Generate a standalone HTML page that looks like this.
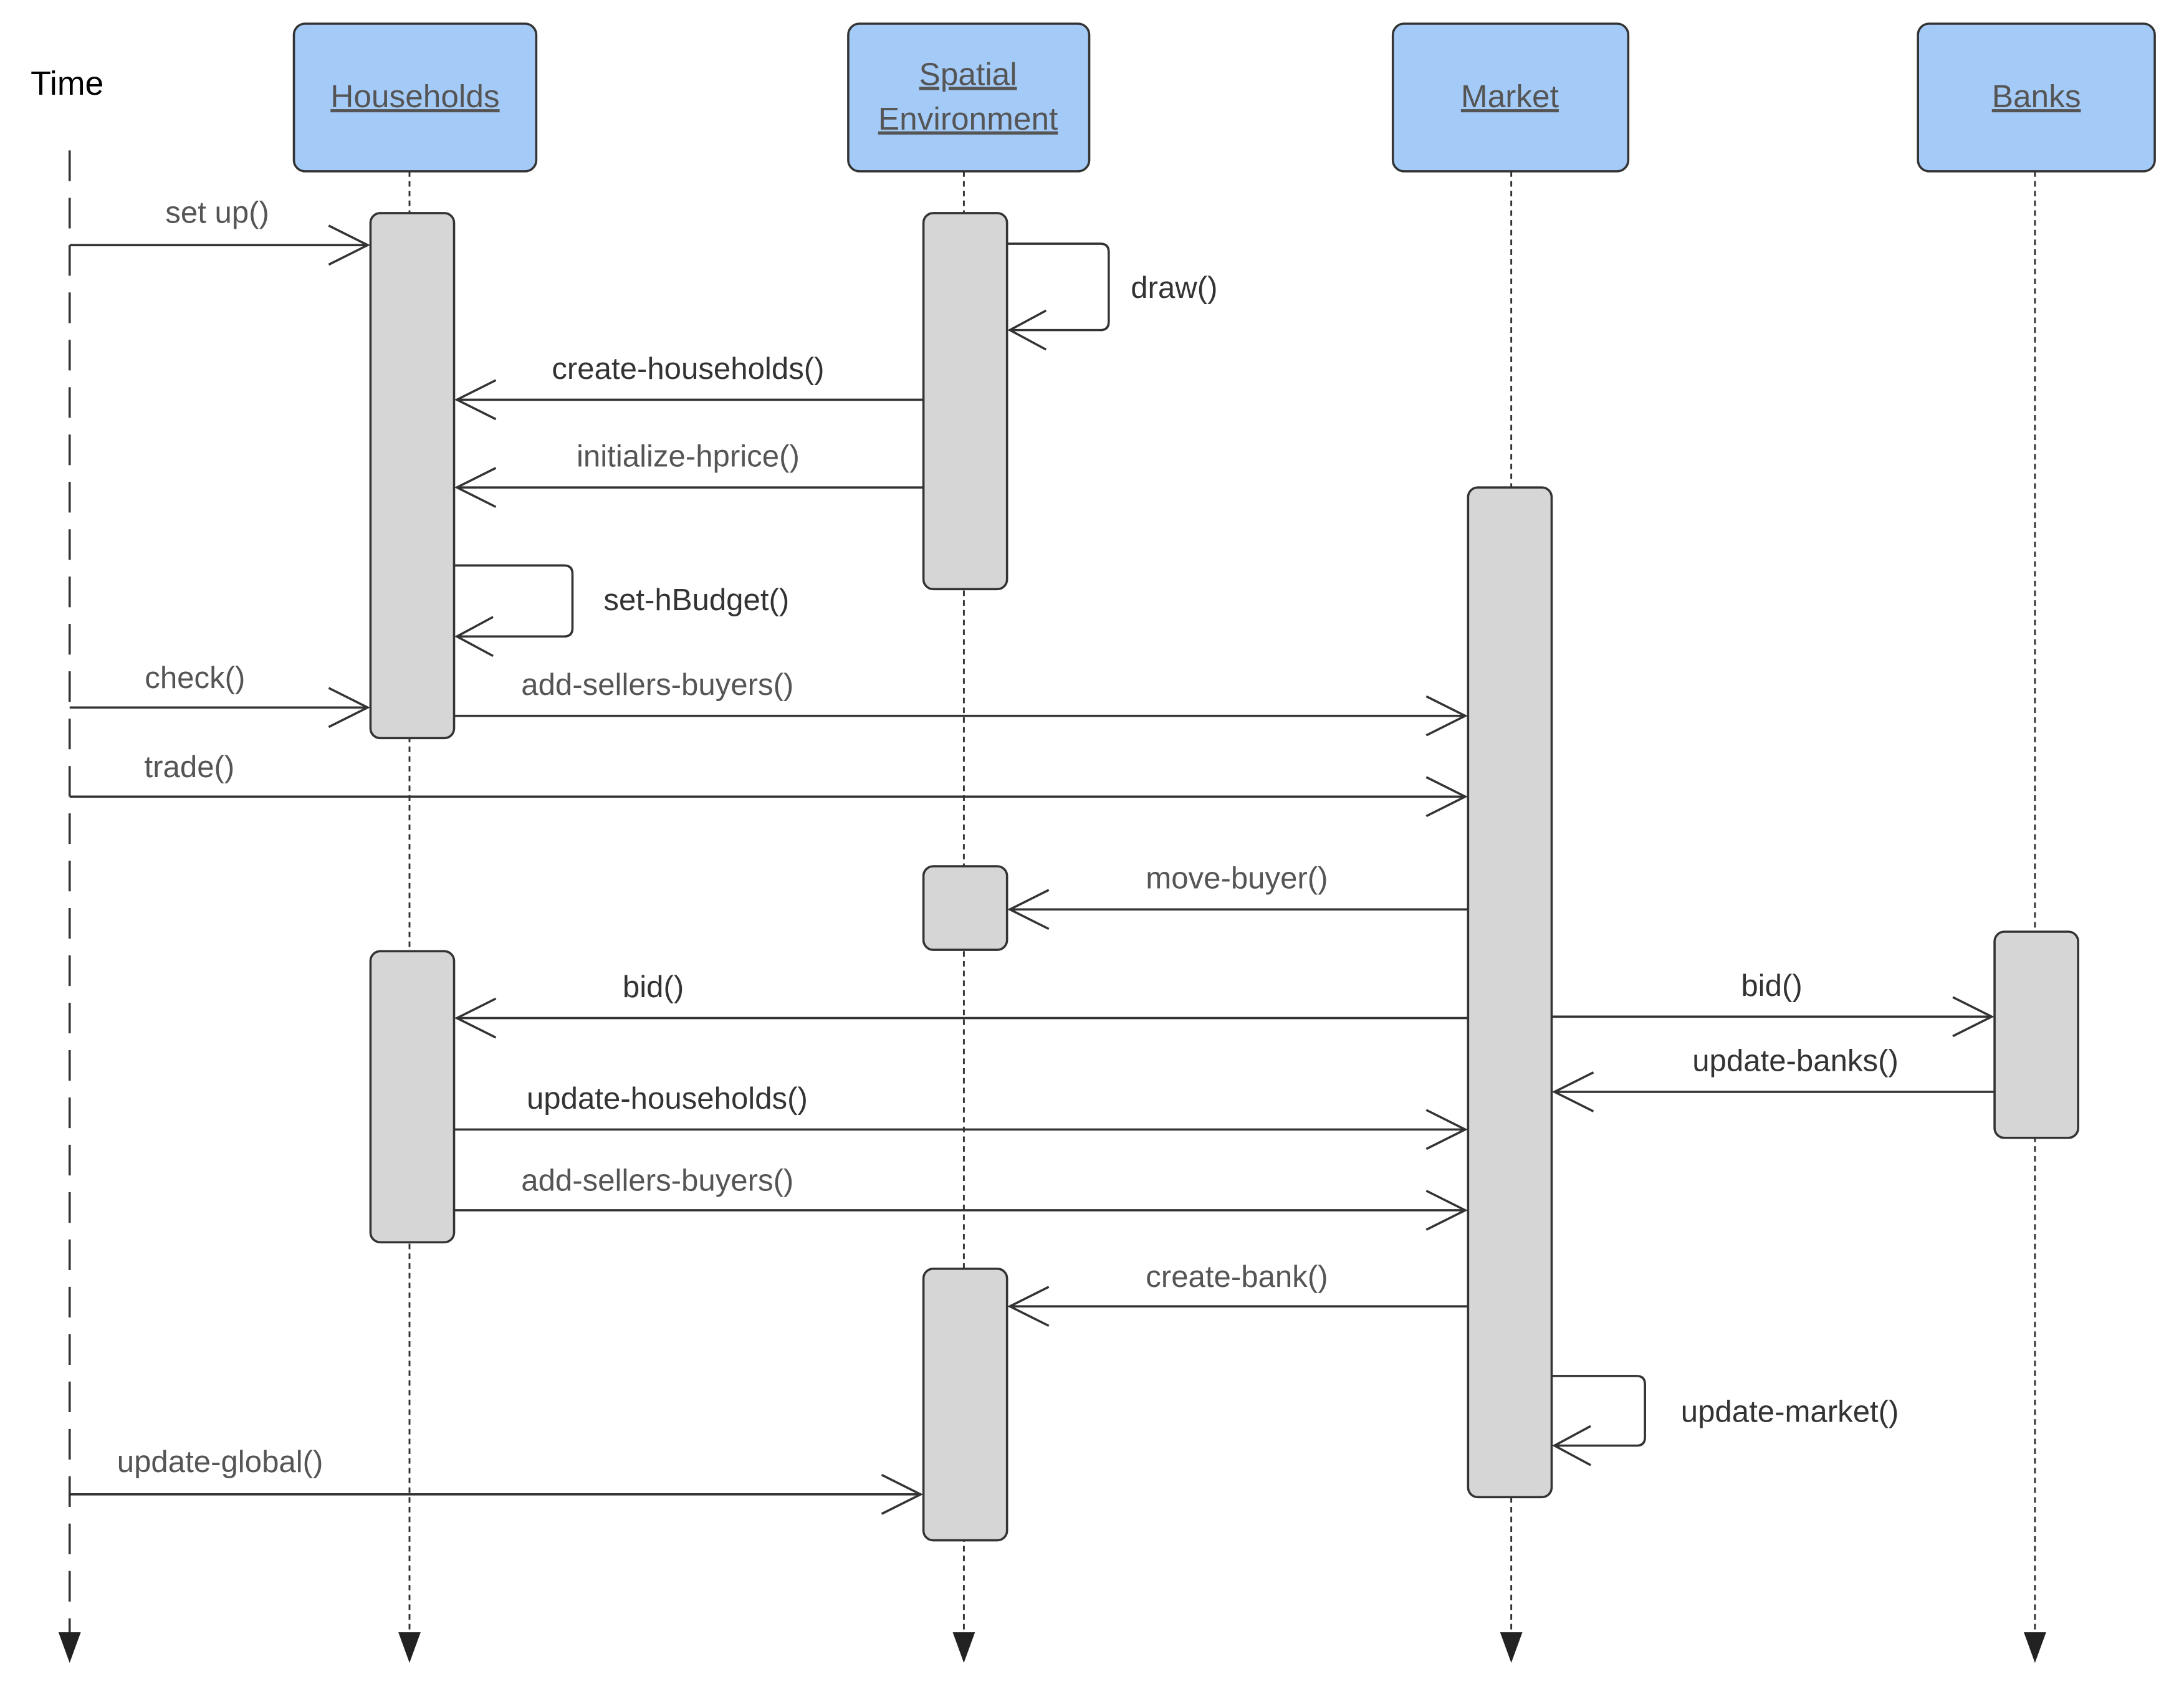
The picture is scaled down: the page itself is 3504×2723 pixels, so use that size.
<!DOCTYPE html>
<html><head><meta charset="utf-8"><style>html,body{margin:0;padding:0;background:#fff}svg{display:block}</style></head>
<body>
<svg width="3504" height="2723" viewBox="0 0 1568 1218.5" preserveAspectRatio="none" xmlns="http://www.w3.org/2000/svg" font-family="Liberation Sans, sans-serif">
<rect width="1568" height="1219" fill="#fff"/>
<g fill="#a4cbf8" stroke="#333" stroke-width="1.6">
<rect x="211" y="17" width="174" height="106" rx="8"/>
<rect x="609" y="17" width="173" height="106" rx="8"/>
<rect x="1000" y="17" width="169" height="106" rx="8"/>
<rect x="1377" y="17" width="170" height="106" rx="8"/>
</g>
<g font-size="23" fill="#555" text-anchor="middle" text-decoration="underline">
<text x="298" y="77">Households</text>
<text x="695" y="61">Spatial</text>
<text x="695" y="93">Environment</text>
<text x="1084" y="77">Market</text>
<text x="1462" y="77">Banks</text>
</g>
<text x="22" y="68" font-size="24" fill="#000">Time</text>
<g stroke="#333" stroke-width="1.6" fill="none">
<line x1="50" y1="108" x2="50" y2="1176" stroke-dasharray="22,12"/>
<g stroke-dasharray="4,3" stroke-width="1.3">
<line x1="294" y1="123" x2="294" y2="1176"/>
<line x1="692" y1="123" x2="692" y2="1176"/>
<line x1="1085" y1="123" x2="1085" y2="1176"/>
<line x1="1461" y1="123" x2="1461" y2="1176"/>
</g>
</g>
<g fill="#222">
<polygon points="42,1172 58,1172 50,1194"/>
<polygon points="286,1172 302,1172 294,1194"/>
<polygon points="684,1172 700,1172 692,1194"/>
<polygon points="1077,1172 1093,1172 1085,1194"/>
<polygon points="1453,1172 1469,1172 1461,1194"/>
</g>
<g fill="#d6d6d6" stroke="#333" stroke-width="1.6">
<rect x="266" y="153" width="60" height="377" rx="7"/>
<rect x="266" y="683" width="60" height="209" rx="7"/>
<rect x="663" y="153" width="60" height="270" rx="7"/>
<rect x="663" y="622" width="60" height="60" rx="7"/>
<rect x="663" y="911" width="60" height="195" rx="7"/>
<rect x="1054" y="350" width="60" height="725" rx="7"/>
<rect x="1432" y="669" width="60" height="148" rx="7"/>
</g>
<g stroke="#333" stroke-width="1.6" fill="none">
<path d="M50 176H264M236 162L264 176L236 190"/>
<path d="M50 508H264M236 494L264 508L236 522"/>
<path d="M326 514H1052M1024 500L1052 514L1024 528"/>
<path d="M50 572H1052M1024 558L1052 572L1024 586"/>
<path d="M1114 730H1430M1402 716L1430 730L1402 744"/>
<path d="M326 811H1052M1024 797L1052 811L1024 825"/>
<path d="M326 869H1052M1024 855L1052 869L1024 883"/>
<path d="M50 1073H661M633 1059L661 1073L633 1087"/>
<path d="M663 287H328M356 273L328 287L356 301"/>
<path d="M663 350H328M356 336L328 350L356 364"/>
<path d="M1054 653H725M753 639L725 653L753 667"/>
<path d="M1054 731H328M356 717L328 731L356 745"/>
<path d="M1432 784H1116M1144 770L1116 784L1144 798"/>
<path d="M1054 938H725M753 924L725 938L753 952"/>
<path d="M723 175H790Q796 175 796 181V231Q796 237 790 237H725M751 223L725 237L751 251"/>
<path d="M326 406H405Q411 406 411 412V451Q411 457 405 457H328M354 443L328 457L354 471"/>
<path d="M1114 988H1175Q1181 988 1181 994V1032Q1181 1038 1175 1038H1116M1142 1024L1116 1038L1142 1052"/>
</g>
<g font-size="22" fill="#555" text-anchor="middle">
<text x="156" y="160">set up()</text>
<text x="843" y="214" fill="#333">draw()</text>
<text x="494" y="272" fill="#333">create-households()</text>
<text x="494" y="335">initialize-hprice()</text>
<text x="500" y="438" fill="#333">set-hBudget()</text>
<text x="140" y="494">check()</text>
<text x="472" y="499">add-sellers-buyers()</text>
<text x="136" y="558">trade()</text>
<text x="888" y="638">move-buyer()</text>
<text x="469" y="716" fill="#333">bid()</text>
<text x="1272" y="715" fill="#333">bid()</text>
<text x="1289" y="769" fill="#333">update-banks()</text>
<text x="479" y="796" fill="#333">update-households()</text>
<text x="472" y="855">add-sellers-buyers()</text>
<text x="888" y="924">create-bank()</text>
<text x="1285" y="1021" fill="#333">update-market()</text>
<text x="158" y="1057">update-global()</text>
</g>
</svg>
</body></html>
